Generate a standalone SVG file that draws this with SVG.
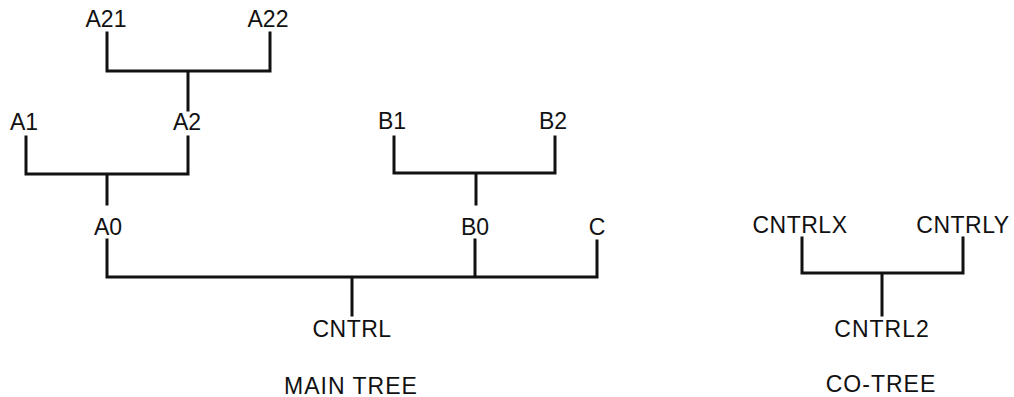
<svg xmlns="http://www.w3.org/2000/svg" width="1014" height="397" viewBox="0 0 1014 397">
<style>
text{font-family:"Liberation Sans",Arial,sans-serif;font-size:23px;fill:#111;text-anchor:middle}
.c path{fill:none;stroke:#111;stroke-width:3;stroke-linecap:square;stroke-linejoin:miter}
</style>
<rect width="1014" height="397" fill="#fff"/>
<g class="c" id="connectors">
<path d="M107,33 V71 H270 V33 M188,71 V110"/>
<path d="M26,137 V174 H188 V137 M107,174 V204"/>
<path d="M394,137 V173 H555 V137 M476,173 V204"/>
<path d="M107,240 V277 H597 V241 M475,240 V277 M352,277 V315"/>
<path d="M802,238 V273 H963 V238 M882,273 V315"/>
</g>
<g id="A21"><text x="106" y="27">A21</text></g>
<g id="A22"><text x="268" y="27">A22</text></g>
<g id="A1"><text x="24" y="130">A1</text></g>
<g id="A2"><text x="187" y="130">A2</text></g>
<g id="B1"><text x="392" y="129">B1</text></g>
<g id="B2"><text x="553" y="129">B2</text></g>
<g id="A0"><text x="108" y="235">A0</text></g>
<g id="B0"><text x="475" y="235">B0</text></g>
<g id="C"><text x="597" y="235">C</text></g>
<g id="CNTRL"><text x="352" y="337" letter-spacing="0.5">CNTRL</text></g>
<g id="CNTRLX"><text x="800" y="233" letter-spacing="0.5">CNTRLX</text></g>
<g id="CNTRLY"><text x="963" y="233" letter-spacing="0.5">CNTRLY</text></g>
<g id="CNTRL2"><text x="882" y="337" letter-spacing="1">CNTRL2</text></g>
<g id="MAIN_TREE"><text x="351" y="394" letter-spacing="1">MAIN TREE</text></g>
<g id="CO_TREE"><text x="881" y="392" letter-spacing="1">CO-TREE</text></g>
</svg>
